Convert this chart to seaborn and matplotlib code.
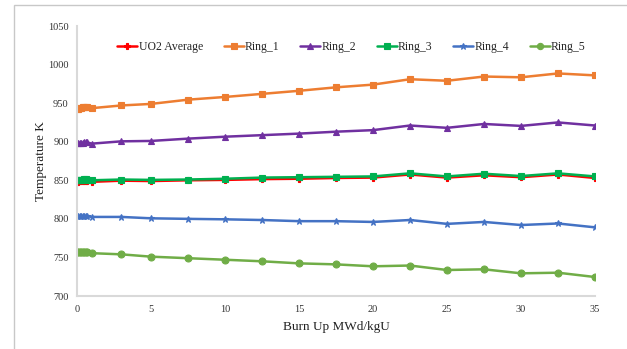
import matplotlib
matplotlib.use("Agg")
import matplotlib.pyplot as plt
import seaborn as sns
import pandas as pd
from matplotlib.patches import Rectangle

burnup = [0, 0.1, 0.2, 0.3, 0.4, 0.5, 0.6, 0.7, 1, 3, 5, 7.5, 10, 12.5, 15, 17.5, 20, 22.5, 25, 27.5, 30, 32.5, 35]

uo2_avg = [848, 848, 848.5, 848.5, 849, 849, 849, 848.5, 848, 849.5, 849, 850, 850.5, 851.5, 852, 853, 853.5, 857.5, 853.5, 856.5, 854, 857.5, 853]
ring_1 = [943, 943, 944, 944, 944.5, 945, 945.5, 945, 943.5, 947, 949, 954.5, 958, 962, 966, 970.5, 974, 981, 979, 984.5, 983.5, 988.5, 986]
ring_2 = [898, 898, 898.5, 898.5, 898.5, 899, 899, 899, 897.5, 900.5, 901, 904, 906.5, 908.5, 910.5, 913, 915, 921, 918, 923, 920.5, 925, 921]
ring_3 = [850, 850.5, 851, 851, 851, 851.5, 851.5, 851, 850, 851, 850.5, 851, 852, 853.5, 854, 854.5, 855, 859, 855, 858.5, 855.5, 859, 855]
ring_4 = [803.5, 803.5, 803.5, 803.5, 803.5, 803.5, 803.5, 803.5, 802.5, 802.5, 800.7, 800, 799.4, 798.5, 797, 797, 796, 798.5, 793.5, 796, 792, 794, 789]
ring_5 = [757, 757, 757, 757, 757, 757, 757, 756.5, 755.5, 754, 751, 749, 747, 745, 742.3, 741, 738.5, 739.5, 733.7, 734.6, 729.4, 730.2, 724.6]

series_names = ["UO2 Average", "Ring_1", "Ring_2", "Ring_3", "Ring_4", "Ring_5"]
series_values = [uo2_avg, ring_1, ring_2, ring_3, ring_4, ring_5]
colors = ["#FF0000", "#ED7D31", "#7030A0", "#00B050", "#4472C4", "#70AD47"]
markers = ["P", "s", "^", "s", "*", "o"]
xticks = [0, 5, 10, 15, 20, 25, 30, 35]
yticks = [700, 750, 800, 850, 900, 950, 1000, 1050]

rows = []
for name, vals in zip(series_names, series_values):
    for x, y in zip(burnup, vals):
        rows.append({"Burn Up": x, "Temperature": y, "Series": name})
df = pd.DataFrame(rows)

sns.set_style("white")
plt.rcParams["font.family"] = ["Liberation Serif", "DejaVu Serif"]

fig = plt.figure(figsize=(6.27, 3.49), dpi=100)
fig.patches.append(Rectangle((14 / 627, -0.1), 1.1, 1 - 5 / 349 + 0.1, transform=fig.transFigure,
                             fill=False, edgecolor="#C8C8C8", linewidth=1.0))
ax = fig.add_axes([77 / 627, 1 - 296 / 349, (595 - 77) / 627, (296 - 26) / 349])

sns.lineplot(data=df, x="Burn Up", y="Temperature", hue="Series", style="Series",
             hue_order=series_names, style_order=series_names,
             palette=dict(zip(series_names, colors)),
             markers=dict(zip(series_names, markers)),
             dashes=False, markersize=5, linewidth=1.8, markeredgewidth=0.8,
             markeredgecolor=None,
             ax=ax, legend=True)

ax.set_xlim(0, 35)
ax.set_ylim(700, 1050)
ax.set_xticks(xticks)
ax.set_yticks(yticks)
ax.tick_params(axis="both", labelsize=7.5, length=3, color="#D0D0D0", direction="out",
               labelcolor="#333333")
ax.tick_params(axis="y", length=0, pad=6)
for s in ["top", "right"]:
    ax.spines[s].set_visible(False)
for s in ["left", "bottom"]:
    ax.spines[s].set_color("#D9D9D9")
    ax.spines[s].set_linewidth(1.5)
ax.set_xlabel("Burn Up MWd/kgU", fontsize=9.5, color="#222222", labelpad=5)
ax.set_ylabel("Temperature K", fontsize=9.5, color="#222222", labelpad=0.5)

leg = ax.legend(loc="upper center", bbox_to_anchor=(0.53, 0.985), ncol=6, frameon=False,
                fontsize=8.5, handlelength=1.7, handletextpad=0.1, columnspacing=1.75,
                markerscale=0.9)

fig.savefig("out.png", dpi=100)
